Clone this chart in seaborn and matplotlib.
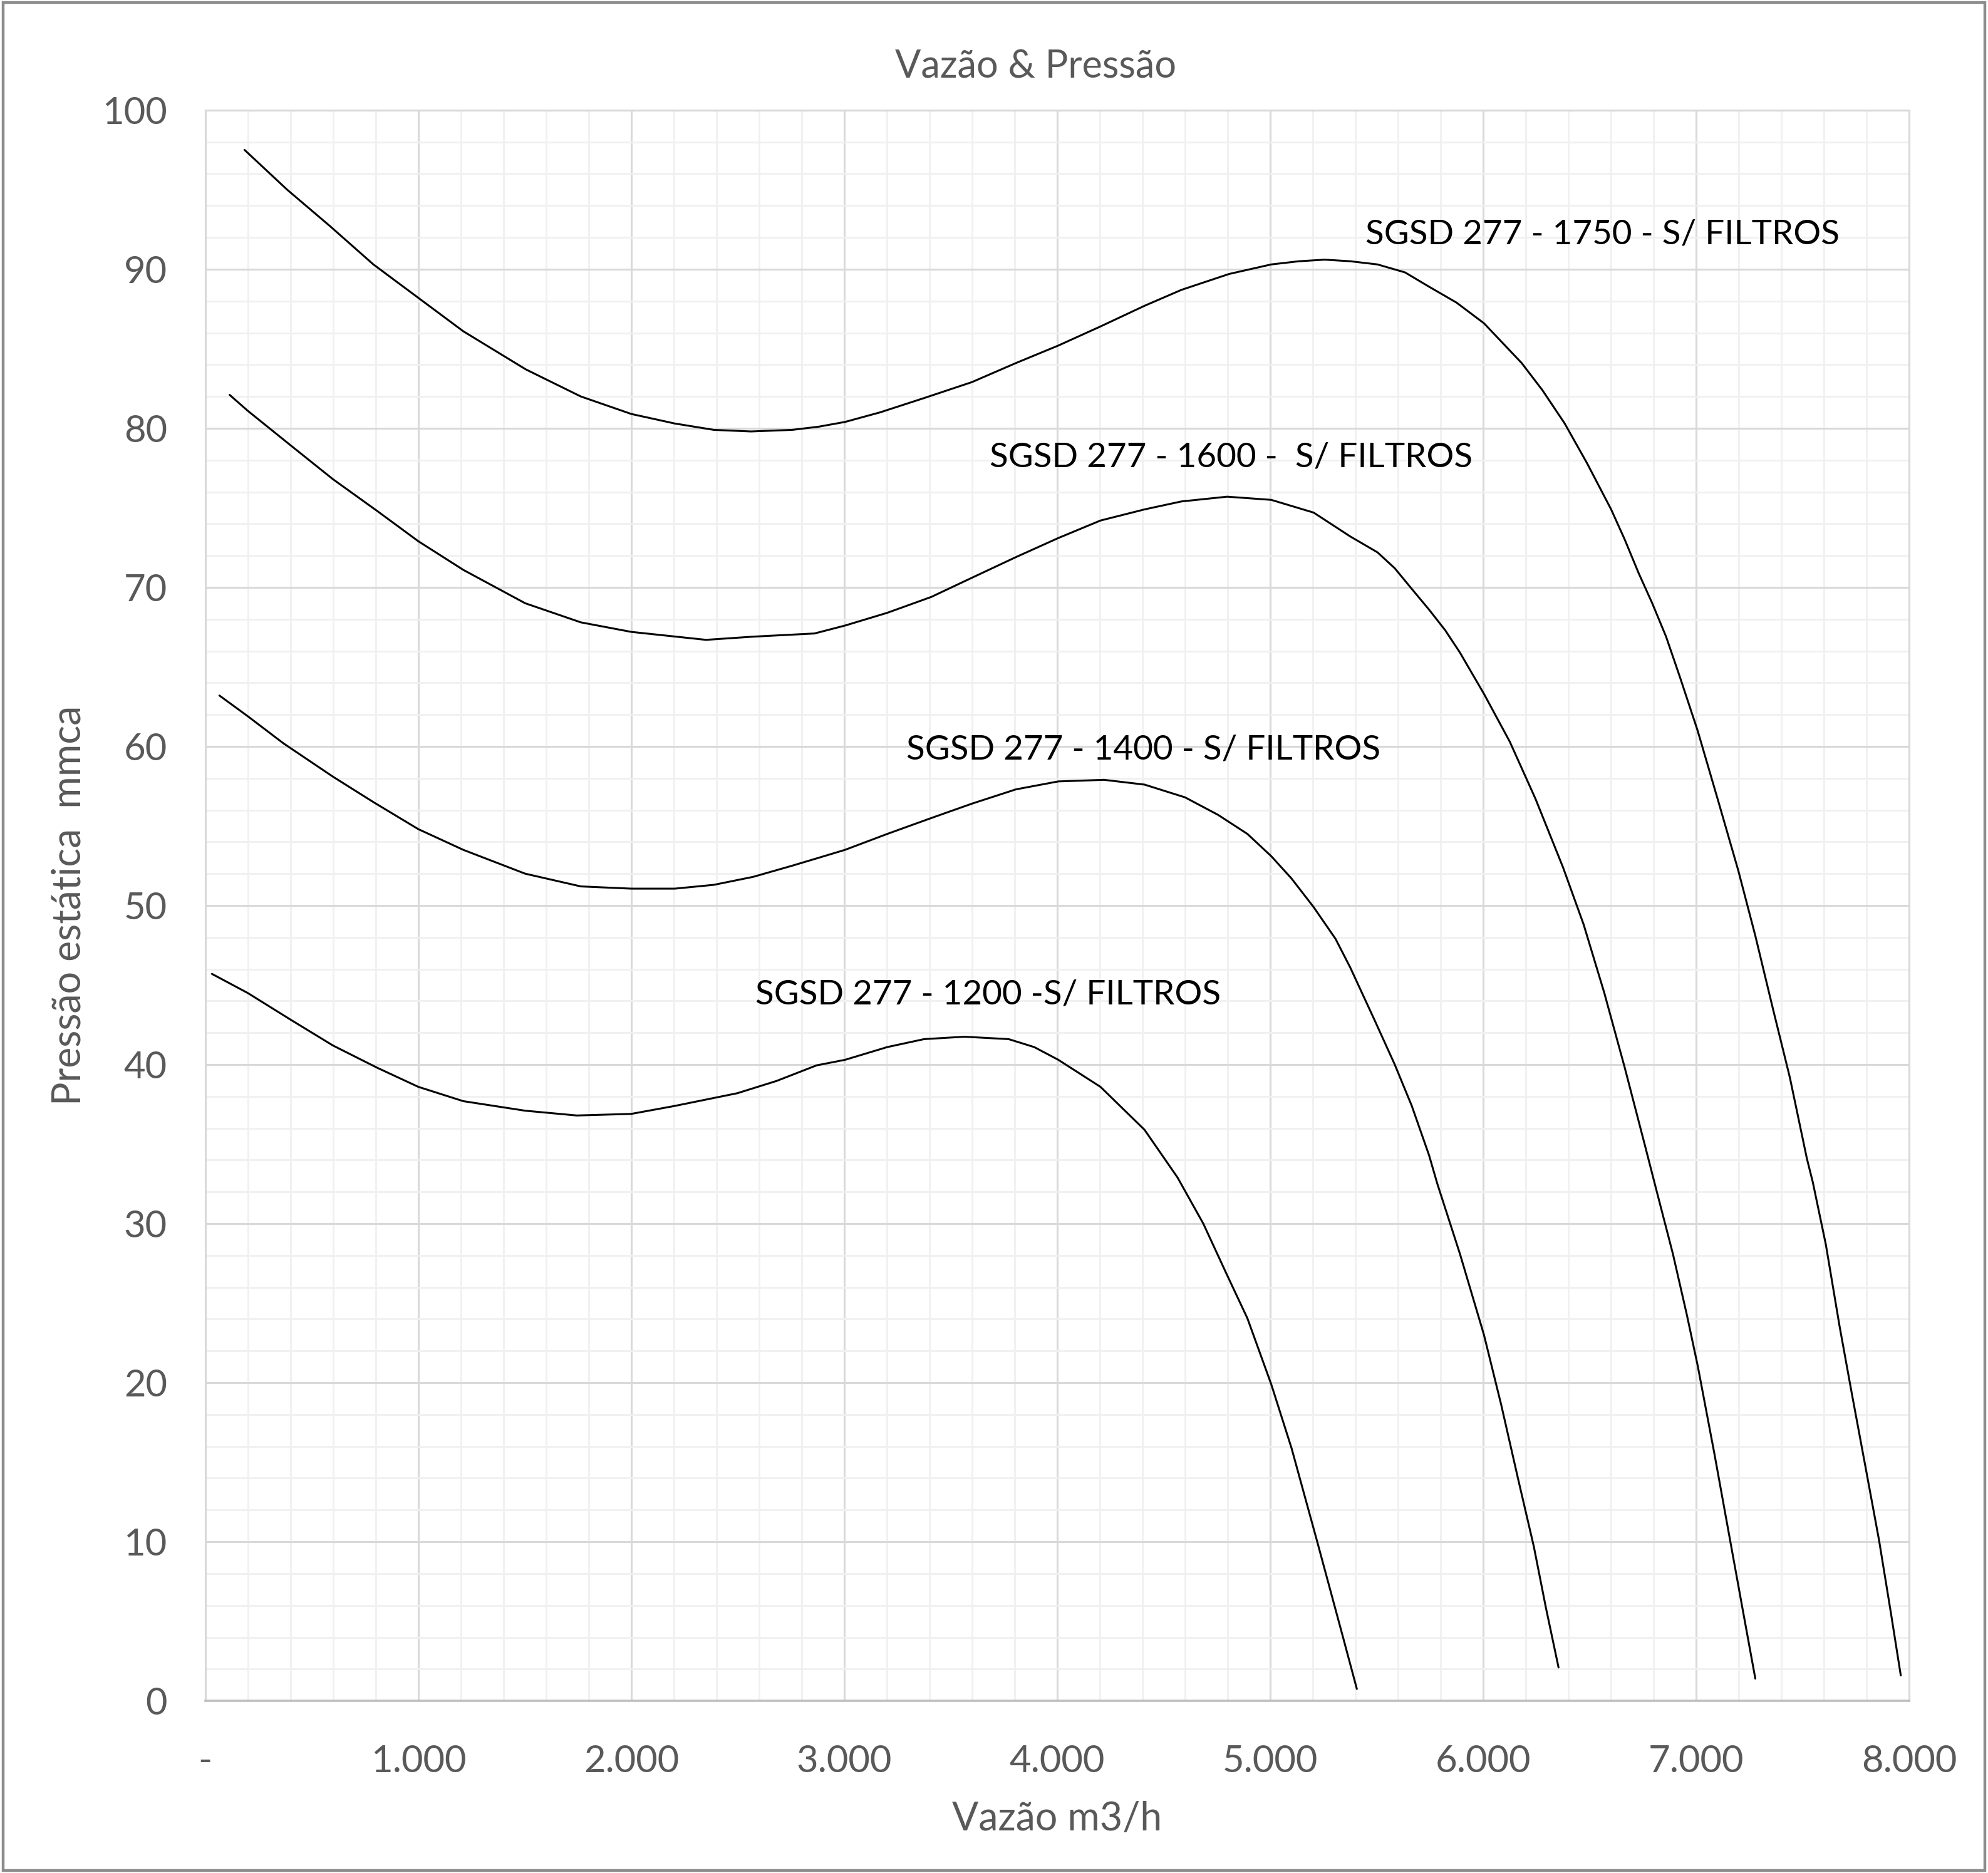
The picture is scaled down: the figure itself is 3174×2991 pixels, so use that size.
import numpy as np
import pandas as pd
import matplotlib
matplotlib.use("Agg")
import matplotlib.pyplot as plt
from matplotlib.patches import Rectangle
from matplotlib.ticker import MultipleLocator, FixedLocator, FixedFormatter
import seaborn as sns

# ── Data ──────────────────────────────────────────────────────────────────────
Q1750 = [184, 384, 586, 789, 1000, 1211, 1505, 1763, 2000, 2204, 2388, 2562, 2755, 2880,
         3004, 3168, 3375, 3599, 3806, 4005, 4203, 4410, 4583, 4807, 5005, 5135, 5256, 5376,
         5504, 5633, 5746, 5875, 6004, 6181, 6278, 6383, 6488, 6601, 6665, 6730, 6794, 6859,
         6923, 7007, 7101, 7198, 7278, 7359, 7440, 7520, 7548, 7609, 7673, 7730, 7794, 7859,
         7915, 7961]
P1750 = [97.5, 95.0, 92.7, 90.3, 88.2, 86.1, 83.7, 82.0, 80.9, 80.3, 79.9, 79.8, 79.9, 80.1,
         80.4, 81.0, 81.9, 82.9, 84.1, 85.2, 86.4, 87.7, 88.7, 89.7, 90.3, 90.5, 90.6, 90.5,
         90.3, 89.8, 88.9, 87.9, 86.6, 84.1, 82.4, 80.3, 77.8, 74.9, 73.0, 70.9, 69.0, 66.9,
         64.4, 61.0, 56.7, 52.2, 48.1, 43.6, 39.2, 34.1, 32.6, 28.7, 23.6, 19.4, 14.8, 10.1,
         5.5, 1.6]

Q1600 = [114, 199, 403, 599, 807, 1000, 1211, 1502, 1763, 2000, 2351, 2571, 2860, 3004,
         3202, 3409, 3599, 3806, 4005, 4203, 4410, 4583, 4798, 5005, 5204, 5376, 5504, 5585,
         5665, 5746, 5822, 5891, 6004, 6125, 6246, 6375, 6472, 6569, 6665, 6762, 6806, 6891,
         6956, 7007, 7085, 7165, 7222, 7278]
P1600 = [82.1, 81.1, 78.9, 76.8, 74.8, 72.9, 71.1, 69.0, 67.8, 67.2, 66.7, 66.9, 67.1, 67.6,
         68.4, 69.4, 70.6, 71.9, 73.1, 74.2, 74.9, 75.4, 75.7, 75.5, 74.7, 73.2, 72.2, 71.2,
         69.9, 68.6, 67.3, 65.9, 63.3, 60.3, 56.7, 52.4, 48.8, 44.5, 39.8, 34.8, 32.5, 28.1,
         24.3, 21.1, 15.6, 9.7, 5.5, 1.4]

Q1400 = [66, 199, 366, 599, 789, 1000, 1211, 1502, 1763, 2000, 2204, 2388, 2572, 2755,
         2880, 3004, 3202, 3409, 3599, 3806, 4005, 4220, 4410, 4600, 4755, 4893, 5005, 5100,
         5204, 5307, 5376, 5490, 5585, 5665, 5746, 5785, 5891, 6004, 6085, 6165, 6238, 6294,
         6354]
P1400 = [63.2, 61.9, 60.2, 58.1, 56.5, 54.8, 53.5, 52.0, 51.2, 51.06, 51.06, 51.3, 51.8, 52.5,
         53.0, 53.5, 54.5, 55.5, 56.4, 57.3, 57.8, 57.9, 57.6, 56.8, 55.7, 54.5, 53.1, 51.7,
         49.9, 47.9, 46.1, 42.8, 40.0, 37.4, 34.3, 32.5, 28.1, 23.0, 18.6, 13.9, 9.7, 5.9,
         2.1]

Q1200 = [31, 199, 403, 599, 807, 1000, 1211, 1502, 1744, 2000, 2204, 2498, 2682, 2870,
         3004, 3202, 3375, 3564, 3772, 3892, 4005, 4203, 4410, 4565, 4686, 4793, 4893, 5005,
         5100, 5221, 5342, 5407]
P1200 = [45.7, 44.5, 42.8, 41.2, 39.8, 38.6, 37.7, 37.1, 36.8, 36.9, 37.4, 38.2, 38.97, 39.95,
         40.3, 41.1, 41.6, 41.75, 41.6, 41.1, 40.3, 38.6, 35.9, 32.9, 30.0, 26.9, 24.05, 19.9,
         15.9, 10.0, 4.0, 0.75]

CURVE_NAMES = ["1750", "1600", "1400", "1200"]
LABELS = ["SGSD 277 - 1750 - S/ FILTROS",
          "SGSD 277 - 1600 -  S/ FILTROS",
          "SGSD 277 - 1400 - S/ FILTROS",
          "SGSD 277 - 1200 -S/ FILTROS"]
LABEL_POS = [(5446, 92.2), (3684, 78.2), (3291, 59.8), (2583, 44.4)]

X_TICKS = [0, 1000, 2000, 3000, 4000, 5000, 6000, 7000, 8000]
X_TICKLABELS = ["-", "1.000", "2.000", "3.000", "4.000", "5.000", "6.000", "7.000", "8.000"]
Y_TICKS = [0, 10, 20, 30, 40, 50, 60, 70, 80, 90, 100]

# ── Theme ─────────────────────────────────────────────────────────────────────
sns.set_theme(style="white")
plt.rcParams["font.family"] = ["Lato", "DejaVu Sans"]
GREY_TXT = "#595959"
MAJOR = "#D9D9D9"
MINOR = "#F0F0F0"

frames = []
for name, q, p in zip(CURVE_NAMES, [Q1750, Q1600, Q1400, Q1200], [P1750, P1600, P1400, P1200]):
    frames.append(pd.DataFrame({"Vazao": q, "Pressao": p, "Curva": name}))
df = pd.concat(frames, ignore_index=True)

fig = plt.figure(figsize=(15.87, 14.955), dpi=200)
ax = fig.add_axes([0.1033, 0.0919, 0.8570, 0.8493])

sns.lineplot(data=df, x="Vazao", y="Pressao", units="Curva", estimator=None,
             sort=False, color="black", linewidth=1.1, ax=ax)
for line in ax.get_lines():
    line.set_solid_joinstyle("round")

ax.set_xlim(0, 8000)
ax.set_ylim(0, 100)
ax.xaxis.set_major_locator(FixedLocator(X_TICKS))
ax.xaxis.set_major_formatter(FixedFormatter(X_TICKLABELS))
ax.xaxis.set_minor_locator(MultipleLocator(200))
ax.yaxis.set_major_locator(FixedLocator(Y_TICKS))
ax.yaxis.set_minor_locator(MultipleLocator(2))

ax.grid(True, which="minor", color=MINOR, linewidth=1.0, zorder=0)
ax.grid(True, which="major", color=MAJOR, linewidth=1.1, zorder=0)
ax.set_axisbelow(True)

ax.tick_params(axis="both", which="both", length=0, labelsize=21.5, labelcolor=GREY_TXT)
ax.tick_params(axis="x", pad=25)
ax.tick_params(axis="y", pad=22)

for side in ["top", "right", "left"]:
    ax.spines[side].set_color(MAJOR)
    ax.spines[side].set_linewidth(1.1)
ax.spines["bottom"].set_color("#BFBFBF")
ax.spines["bottom"].set_linewidth(1.3)

ax.set_xlabel("Vazão m3/h", fontsize=22.5, color=GREY_TXT)
ax.set_ylabel("Pressão estática  mmca", fontsize=22.5, color=GREY_TXT)
ax.xaxis.set_label_coords(0.5, -0.0744)
ax.yaxis.set_label_coords(-0.0798, 0.5)
ax.xaxis.label.set_va("center")
ax.yaxis.label.set_va("center")

for text, (x, y) in zip(LABELS, LABEL_POS):
    ax.text(x, y, text, fontsize=19.7, color="black", ha="left", va="center")

fig.text(0.521, 0.9642, "Vazão & Pressão", fontsize=22, color=GREY_TXT,
         ha="center", va="center")

# chart-area border
fig.patches.append(Rectangle((0.0015, 0.0015), 0.997, 0.997, transform=fig.transFigure,
                             fill=False, edgecolor="#8C8C8C", linewidth=1.6))

fig.savefig("out.png", dpi=200, facecolor="white")
